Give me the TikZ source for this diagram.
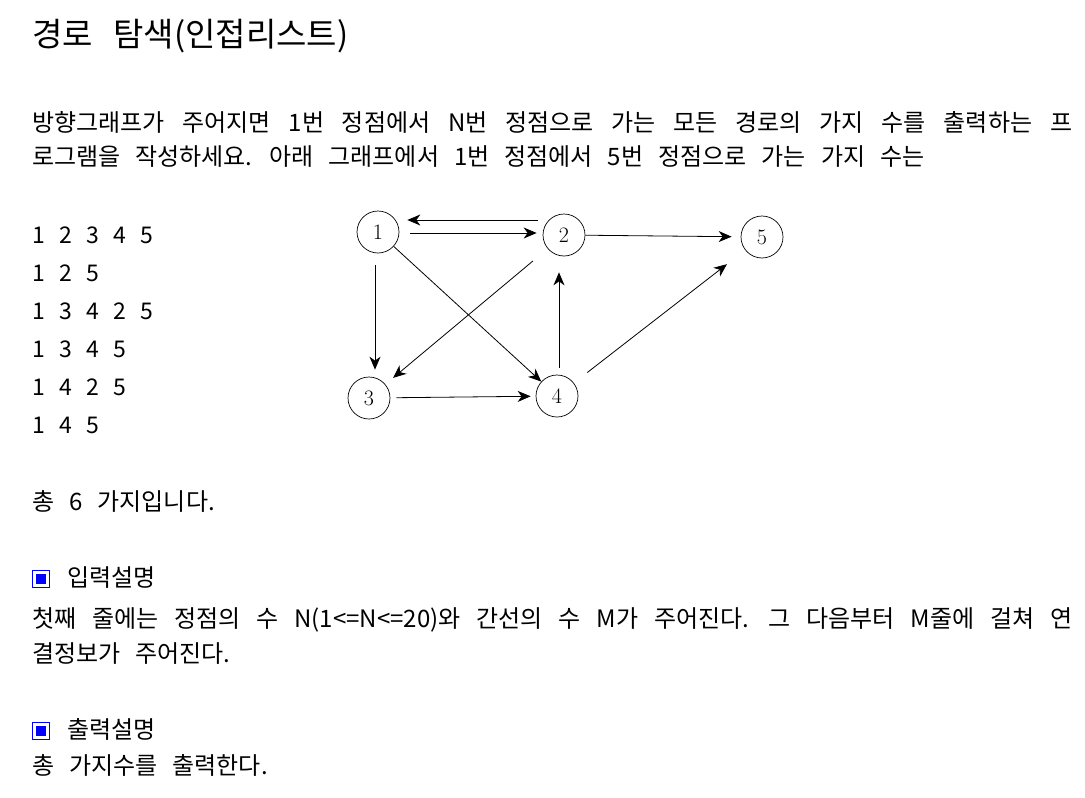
\documentclass[tikz,border=0pt]{standalone}
\usepackage{fontspec}
\newfontfamily\kr[WordSpace=2.9]{Noto Sans CJK KR}
\newfontfamily\krplain[WordSpace=2.8]{Noto Sans CJK KR}
\usetikzlibrary{arrows.meta}

\begin{document}
\begin{tikzpicture}
  [x=1pt,y=-1pt,every node/.style={inner sep=0pt},
   vertex/.style={circle,draw,line width=0.7pt,minimum size=42pt,font=\fontsize{22pt}{22pt}\selectfont},
   arr/.style={-{Stealth[length=13pt,width=11pt,inset=4pt]},line width=0.8pt},
   txt/.style={anchor=base west,font=\kr\fontsize{24pt}{28pt}\selectfont},
   num/.style={anchor=base west,font=\krplain\fontsize{23pt}{27pt}\selectfont},
   markbox/.style={draw=blue,line width=1.3pt,minimum size=17pt,
     path picture={\fill[blue] (path picture bounding box.center) +(-5pt,-5pt) rectangle +(5pt,5pt);}}]
  \fill[white] (0,0) rectangle (1085,798);
  \useasboundingbox (0,0) rectangle (1085,798);

  % texts
  \node[txt] (title) at (32,46) {\fontsize{33pt}{33pt}\selectfont 경로 탐색(인접리스트)};
  \node[txt] (line1) at (32,131) {\makebox[1040pt][s]{방향그래프가 주어지면 1번 정점에서 N번 정점으로 가는 모든 경로의 가지 수를 출력하는 프}};
  \node[txt] (line2) at (32,165) {로그램을 작성하세요. 아래 그래프에서 1번 정점에서 5번 정점으로 가는 가지 수는};
  \foreach \p [count=\k] in {1 2 3 4 5,1 2 5,1 3 4 2 5,1 3 4 5,1 4 2 5,1 4 5}
    \node[num] (route\k) at (32,205+38*\k) {\p};
  \node[txt] (total) at (32,510) {총 6 가지입니다.};
  \node[markbox] (mark1) at (41,579) {};
  \node[txt] (inhead) at (67,586) {입력설명};
  \node[txt] (in1) at (32,627) {\makebox[1040pt][s]{첫째 줄에는 정점의 수 N(1<=N<=20)와 간선의 수 M가 주어진다. 그 다음부터 M줄에 걸쳐 연}};
  \node[txt] (in2) at (32,662) {결정보가 주어진다.};
  \node[markbox] (mark2) at (41,731) {};
  \node[txt] (outhead) at (67,738) {출력설명};
  \node[txt] (out1) at (32,774) {총 가지수를 출력한다.};

  % graph
  \node[vertex] (n1) at (378,232) {1};
  \node[vertex] (n2) at (564,235) {2};
  \node[vertex] (n5) at (762,237) {5};
  \node[vertex] (n3) at (369,398) {3};
  \node[vertex] (n4) at (557,396) {4};

  \draw[arr,shorten <=5pt,shorten >=8pt] ([yshift=15pt]n2.west) -- ([yshift=12pt]n1.east);
  \draw[arr,shorten <=11pt,shorten >=6pt] ([yshift=-1pt]n1.east) -- ([yshift=2pt]n2.west);
  \draw[arr,shorten <=12pt,shorten >=7pt] ([xshift=-3pt]n1.south) -- ([xshift=6pt]n3.north);
  \draw[arr,shorten <=7pt,shorten >=16pt] ([xshift=2pt]n4.north) -- ([xshift=-5pt]n2.south);
  \foreach \from/\to/\a/\b in {n1/n4/0pt/0pt,n2/n3/19pt/10pt,n3/n4/6pt/5pt,n2/n5/0pt/9pt,n4/n5/17pt/23pt}
    \draw[arr,shorten <=\a,shorten >=\b] (\from) -- (\to);
\end{tikzpicture}
\end{document}
